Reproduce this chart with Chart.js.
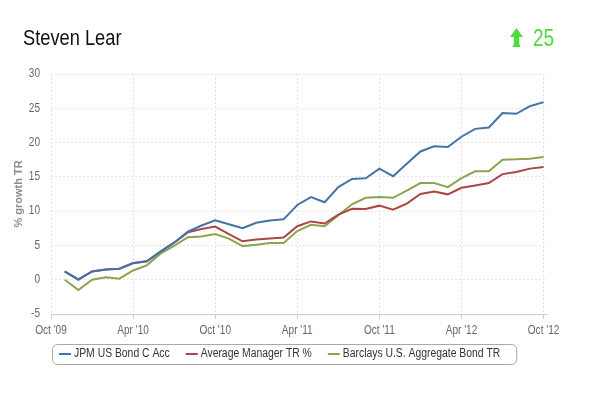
<!DOCTYPE html>
<html>
<head>
<meta charset="utf-8">
<script src="https://cdn.jsdelivr.net/npm/chart.js@4.4.1/dist/chart.umd.min.js"></script>
<style>
  html, body { margin:0; padding:0; background:#fff; }
  #wrap { position:relative; width:600px; height:393px; overflow:hidden; }
  #c { position:absolute; left:0; top:0; }
  .sq { font-family:'Liberation Sans',Arial,sans-serif; transform-origin:0 0; white-space:nowrap; position:absolute; }
  #title { left:23px; top:27px; font-size:22px; line-height:22px; color:#111; transform:scaleX(0.83); }
  #score { left:533px; top:27px; font-size:23px; line-height:23px; color:#4fdc3c; transform:scaleX(0.83); }
  #arrow { position:absolute; left:510px; top:28px; }
</style>
</head>
<body>
<div id="wrap">
  <canvas id="c" width="600" height="393"></canvas>
  <div id="title" class="sq">Steven Lear</div>
  <svg id="arrow" width="13" height="19" viewBox="0 0 13 19"><polygon points="6.5,0 13,9 9,9 9.3,16 10.5,19 2.5,19 3.7,16 4,9 0,9" fill="#4fdc3c"/></svg>
  <div id="score" class="sq">25</div>
</div>
<script>
const FONT = "'Liberation Sans', Arial, sans-serif";

// Monthly points, Nov '09 .. Oct '12
const months = ["Nov '09","Dec '09",
  "Jan '10","Feb '10","Mar '10","Apr '10","May '10","Jun '10","Jul '10","Aug '10","Sep '10","Oct '10","Nov '10","Dec '10",
  "Jan '11","Feb '11","Mar '11","Apr '11","May '11","Jun '11","Jul '11","Aug '11","Sep '11","Oct '11","Nov '11","Dec '11",
  "Jan '12","Feb '12","Mar '12","Apr '12","May '12","Jun '12","Jul '12","Aug '12","Sep '12","Oct '12"];

const jpmBond = [1.2, 0.0,
  1.2, 1.5, 1.6, 2.45, 2.7, 4.1, 5.4, 7.0, 7.9, 8.65, 8.1, 7.5,
  8.3, 8.65, 8.8, 10.9, 12.05, 11.3, 13.5, 14.7, 14.8, 16.2, 15.1, 16.9,
  18.7, 19.45, 19.35, 20.85, 22.0, 22.2, 24.3, 24.2, 25.3, 25.9];

const avgManager = [1.2, 0.05,
  1.2, 1.5, 1.6, 2.4, 2.7, 4.1, 5.4, 6.9, 7.4, 7.75, 6.65, 5.6,
  5.85, 6.0, 6.15, 7.8, 8.5, 8.2, 9.5, 10.35, 10.3, 10.8, 10.2, 11.1,
  12.5, 12.85, 12.45, 13.4, 13.75, 14.1, 15.4, 15.7, 16.2, 16.45];

const barclaysAgg = [0.0, -1.5,
  0.0, 0.35, 0.15, 1.35, 2.1, 3.8, 4.95, 6.2, 6.3, 6.65, 6.0, 4.9,
  5.1, 5.35, 5.35, 7.1, 8.0, 7.8, 9.4, 11.0, 11.95, 12.05, 11.95, 13.0,
  14.1, 14.1, 13.5, 14.8, 15.8, 15.8, 17.5, 17.55, 17.65, 17.9];

const seriesNames = ["JPM US Bond C Acc", "Average Manager TR %", "Barclays U.S. Aggregate Bond TR"];
const tickLabels = ["Oct '09", "Apr '10", "Oct '10", "Apr '11", "Oct '11", "Apr '12", "Oct '12"];
const yTicks = [-5, 0, 5, 10, 15, 20, 25, 30];

// month offset from Oct '09 (tick 0) for each point
const toPoints = arr => arr.map((v, i) => ({ x: i + 1, y: v }));

const SQ = 0.84;  // horizontal squeeze of tick text
const LSQ = 0.83; // horizontal squeeze of legend text

// draws tick labels (squeezed) and the boxed legend
const textPlugin = {
  id: 'textPlugin',
  afterDraw(chart) {
    const ctx = chart.ctx;
    const xs = chart.scales.x, ys = chart.scales.y;
    ctx.save();
    ctx.fillStyle = '#666';
    ctx.font = "12px " + FONT;
    ctx.textBaseline = 'middle';
    xs.ticks.forEach((t, i) => {
      const px = xs.getPixelForValue(t.value);
      const w = ctx.measureText(tickLabels[i]).width * SQ;
      ctx.save();
      ctx.translate(px - w / 2, xs.top + 17);
      ctx.scale(SQ, 1);
      ctx.fillText(tickLabels[i], 0, 0);
      ctx.restore();
    });
    ys.ticks.forEach(t => {
      const py = ys.getPixelForValue(t.value);
      const s = String(t.value);
      const w = ctx.measureText(s).width * SQ;
      ctx.save();
      ctx.translate(ys.right - 11 - w, py);
      ctx.scale(SQ, 1);
      ctx.fillText(s, 0, 0);
      ctx.restore();
    });
    // legend
    ctx.font = "12.5px " + FONT;
    const cy = 354;
    let x = 59;
    chart.data.datasets.forEach(ds => {
      ctx.strokeStyle = ds.borderColor;
      ctx.lineWidth = 2;
      ctx.beginPath();
      ctx.moveTo(x, cy); ctx.lineTo(x + 12, cy); ctx.stroke();
      ctx.fillStyle = '#333';
      ctx.save();
      ctx.translate(x + 15, cy);
      ctx.scale(LSQ, 1);
      ctx.fillText(ds.label, 0, 0);
      ctx.restore();
      x += 15 + ctx.measureText(ds.label).width * LSQ + 16;
    });
    const left = 52, top = 344, w = x - left, h = 20, r = 5;
    ctx.strokeStyle = '#a8a8a8';
    ctx.lineWidth = 1;
    ctx.beginPath();
    ctx.roundRect(left + 0.5, top + 0.5, w, h, r);
    ctx.stroke();
    ctx.restore();
  }
};

Chart.defaults.font.family = FONT;

new Chart(document.getElementById('c'), {
  type: 'line',
  data: {
    datasets: [
      { label: seriesNames[0], data: toPoints(jpmBond), borderColor: '#4572A7' },
      { label: seriesNames[1], data: toPoints(avgManager), borderColor: '#AA4643' },
      { label: seriesNames[2], data: toPoints(barclaysAgg), borderColor: '#89A54E' }
    ].map(d => Object.assign(d, { borderWidth: 2, pointRadius: 0, tension: 0, fill: false }))
  },
  options: {
    responsive: false,
    animation: false,
    devicePixelRatio: 1,
    layout: { padding: { top: 74, right: 53, left: 0, bottom: 0 } },
    plugins: { legend: { display: false }, tooltip: { enabled: false } },
    scales: {
      x: {
        type: 'linear', min: 0, max: 36.25,
        afterBuildTicks: s => { s.ticks = tickLabels.map((_, i) => ({ value: i * 6 })); },
        afterFit: s => { s.height = 79; },
        ticks: { display: false },
        grid: { color: '#e4e4e4', tickColor: '#c0d0e0', tickLength: 5, drawTicks: true },
        border: { display: true, color: '#c0d0e0', dash: [2, 2] }
      },
      y: {
        min: -5, max: 30,
        afterBuildTicks: s => { s.ticks = yTicks.map(v => ({ value: v })); },
        afterFit: s => { s.width = 51; },
        ticks: { display: false },
        grid: { color: '#e4e4e4', drawTicks: false },
        border: { display: false, dash: [2, 2] },
        title: { display: true, text: '% growth TR', color: '#8c8c8c', font: { size: 11, weight: 'bold' }, padding: { top: 12, bottom: 0 } }
      }
    }
  },
  plugins: [textPlugin]
});
</script>
</body>
</html>
